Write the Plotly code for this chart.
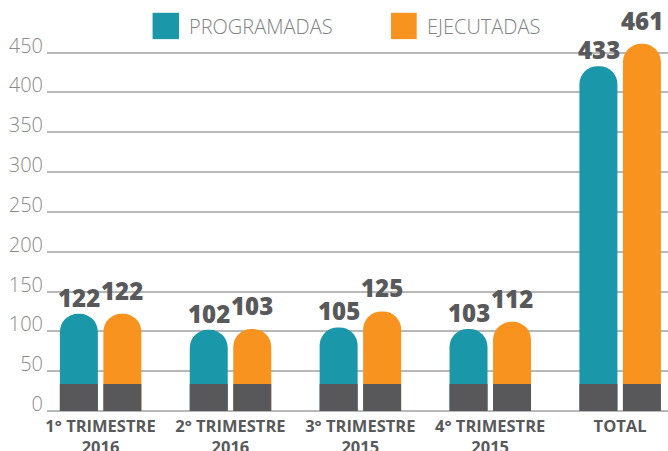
import plotly.graph_objects as go

categories = ["1° TRIMESTRE<br>2016", "2° TRIMESTRE<br>2016", "3° TRIMESTRE<br>2015",
              "4° TRIMESTRE<br>2015", "TOTAL"]
programadas = [122, 102, 105, 103, 433]
ejecutadas = [122, 103, 125, 112, 461]
base_block = [34, 34, 34, 34, 34]
y_ticks = [0, 50, 100, 150, 200, 250, 300, 350, 400, 450]

TEAL = "#1a97a8"
ORANGE = "#f7931e"
DARK = "#58585a"
W = 0.2925
OFF_T = -0.313
OFF_O = 0.022

fig = go.Figure()
fig.add_bar(x=categories, y=programadas, width=W, offset=OFF_T, name="PROGRAMADAS",
            marker=dict(color=TEAL, cornerradius="50%", line_width=0), showlegend=False)
fig.add_bar(x=categories, y=ejecutadas, width=W, offset=OFF_O, name="EJECUTADAS",
            marker=dict(color=ORANGE, cornerradius="50%", line_width=0), showlegend=False)
fig.add_bar(x=categories, y=base_block, width=W, offset=OFF_T,
            marker=dict(color=DARK, line_width=0), showlegend=False, hoverinfo="skip")
fig.add_bar(x=categories, y=base_block, width=W, offset=OFF_O,
            marker=dict(color=DARK, line_width=0), showlegend=False, hoverinfo="skip")

label_font = dict(family="Open Sans", size=24, color="#58595b", weight=800)
annotations = []
for c, v in zip(categories, programadas):
    annotations.append(dict(x=c, y=v, text=str(v), showarrow=False, xshift=-21.5,
                            yanchor="bottom", yshift=-2, font=label_font))
for c, v in zip(categories, ejecutadas):
    annotations.append(dict(x=c, y=v, text=str(v), showarrow=False, xshift=21.8,
                            yanchor="bottom", yshift=5, font=label_font))

legend_font = dict(family="Open Sans", size=20, color="#808285", weight=300)
annotations.append(dict(xref="paper", yref="paper", x=0.2260, y=0.963, text="PROGRAMADAS",
                        showarrow=False, xanchor="left", yanchor="middle", font=legend_font))
annotations.append(dict(xref="paper", yref="paper", x=0.6090, y=0.963, text="EJECUTADAS",
                        showarrow=False, xanchor="left", yanchor="middle", font=legend_font))
shapes = [
    dict(type="rect", xref="paper", yref="paper", x0=0.170, x1=0.2126, y0=0.932, y1=0.998,
         fillcolor=TEAL, line_width=0),
    dict(type="rect", xref="paper", yref="paper", x0=0.554, x1=0.5953, y0=0.932, y1=0.998,
         fillcolor=ORANGE, line_width=0),
]

fig.update_layout(
    width=668, height=451,
    margin=dict(l=47, r=0, t=12, b=40, pad=0, autoexpand=False),
    barmode="overlay",
    plot_bgcolor="white", paper_bgcolor="white",
    annotations=annotations, shapes=shapes,
    showlegend=False,
)
fig.update_xaxes(
    type="category", range=[-0.412, 4.369], showgrid=False, showline=False, zeroline=False,
    ticks="", automargin=False, ticklabelstandoff=3,
    tickfont=dict(family="Open Sans", size=16.5, color="#58595b", weight=700),
)
fig.update_yaxes(
    range=[0, 501], tickvals=y_ticks, showgrid=True, gridcolor="#b8b8b8", gridwidth=1.5,
    zeroline=True, zerolinecolor="#b8b8b8", zerolinewidth=1.5, showline=False, ticks="",
    automargin=False,
    tickfont=dict(family="Open Sans", size=20, color="#8a8a8a", weight=300),
    ticklabelshift=-7, ticklabelstandoff=3,
)
for a in fig.data:
    a.update(cliponaxis=False)

fig.write_html("out.html", config={"displayModeBar": False},
               post_script="document.body.style.margin='0';document.body.style.overflow='hidden';")
